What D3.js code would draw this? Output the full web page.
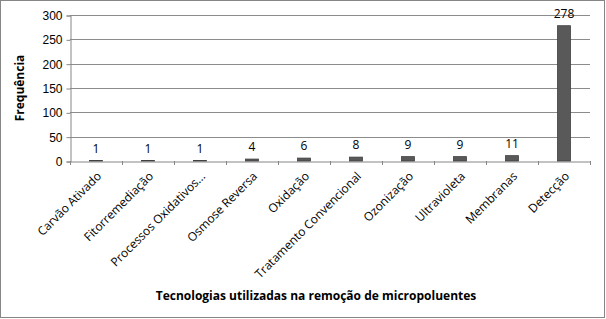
<!DOCTYPE html>
<meta charset="utf-8">
<title>Tecnologias</title>
<body>
<script src="https://cdn.jsdelivr.net/npm/d3@7"></script>
<style>
html, body {
    margin: 0;
    background: #fff;
}
svg {
    display: block;
    font-family: "Open Sans", "Noto Sans", sans-serif;
}
</style>
<script>
var categories = ["Carvão Ativado", "Fitorremediação", "Processos Oxidativos...", "Osmose Reversa",
    "Oxidação", "Tratamento Convencional", "Ozonização", "Ultravioleta", "Membranas", "Detecção"];
var values = [1, 1, 1, 4, 6, 8, 9, 9, 11, 278];
var yTicks = [0, 50, 100, 150, 200, 250, 300];

var width = 606,
    height = 319,
    margin = {top: 15, right: 16, bottom: 158, left: 70};

var svg = d3.select("body").append("svg")
    .attr("width", width)
    .attr("height", height);

svg.append("rect")
    .attr("x", 0.5).attr("y", 0.5)
    .attr("width", width - 2).attr("height", height - 2)
    .attr("fill", "#fff")
    .attr("stroke", "#868686");

var x = d3.scaleBand()
    .domain(categories)
    .range([margin.left, width - margin.right]);

var y = d3.scaleLinear()
    .domain([0, 300])
    .range([height - margin.bottom, margin.top]);

// grid
svg.append("g")
    .selectAll("line")
    .data(yTicks.slice(1))
    .join("line")
    .attr("x1", margin.left)
    .attr("x2", width - margin.right)
    .attr("y1", function(d) { return Math.round(y(d)) + 0.5; })
    .attr("y2", function(d) { return Math.round(y(d)) + 0.5; })
    .attr("stroke", "#8c8c8c");

// y axis
var yAxis = svg.append("g")
    .attr("transform", "translate(" + (margin.left + 0.5) + ",0.5)")
    .call(d3.axisLeft(y).tickValues(yTicks).tickSize(4).tickPadding(4));
yAxis.selectAll("text").attr("font-size", 12).attr("fill", "#000");
yAxis.selectAll("line, path").attr("stroke", "#868686");

// x axis
var xAxis = svg.append("g")
    .attr("transform", "translate(0," + (Math.round(y(0)) + 0.5) + ")")
    .call(d3.axisBottom(x).tickSize(0).tickFormat(""));
xAxis.select("path").attr("stroke", "#868686");
xAxis.selectAll(".tick").remove();

svg.append("g")
    .selectAll("line")
    .data(categories.concat([null]))
    .join("line")
    .attr("x1", function(d, i) { return margin.left + i * x.bandwidth() + 0.5; })
    .attr("x2", function(d, i) { return margin.left + i * x.bandwidth() + 0.5; })
    .attr("y1", y(0))
    .attr("y2", y(0) + 4)
    .attr("stroke", "#868686");

// category labels
svg.append("g")
    .selectAll("text")
    .data(categories)
    .join("text")
    .attr("text-anchor", "end")
    .attr("font-size", 12)
    .attr("fill", "#000")
    .attr("transform", function(d) {
        return "translate(" + (x(d) + x.bandwidth() / 2 + 6) + "," + (y(0) + 16) + ") rotate(-45)";
    })
    .text(function(d) { return d; });

// bars
var bw = 13;
svg.append("g")
    .selectAll("rect")
    .data(values)
    .join("rect")
    .attr("x", function(d, i) { return x(categories[i]) + x.bandwidth() / 2 - bw / 2; })
    .attr("y", function(d) { return y(d); })
    .attr("width", bw)
    .attr("height", function(d) { return y(0) - y(d); })
    .attr("fill", "#595959")
    .attr("stroke", "#404040")
    .attr("stroke-width", 0.8);

// value labels
svg.append("g")
    .selectAll("text")
    .data(values)
    .join("text")
    .attr("text-anchor", "middle")
    .attr("font-size", 12)
    .attr("x", function(d, i) { return x(categories[i]) + x.bandwidth() / 2; })
    .attr("y", function(d) { return y(d) - 8; })
    .text(function(d) { return d; });

// titles
svg.append("text")
    .attr("transform", "translate(24," + ((margin.top + y(0)) / 2) + ") rotate(-90)")
    .attr("text-anchor", "middle")
    .attr("font-size", 12)
    .attr("font-weight", "bold")
    .text("Frequência");

svg.append("text")
    .attr("x", 316)
    .attr("y", 300)
    .attr("text-anchor", "middle")
    .attr("font-size", 12)
    .attr("font-weight", "bold")
    .text("Tecnologias utilizadas na remoção de micropoluentes");
</script>
